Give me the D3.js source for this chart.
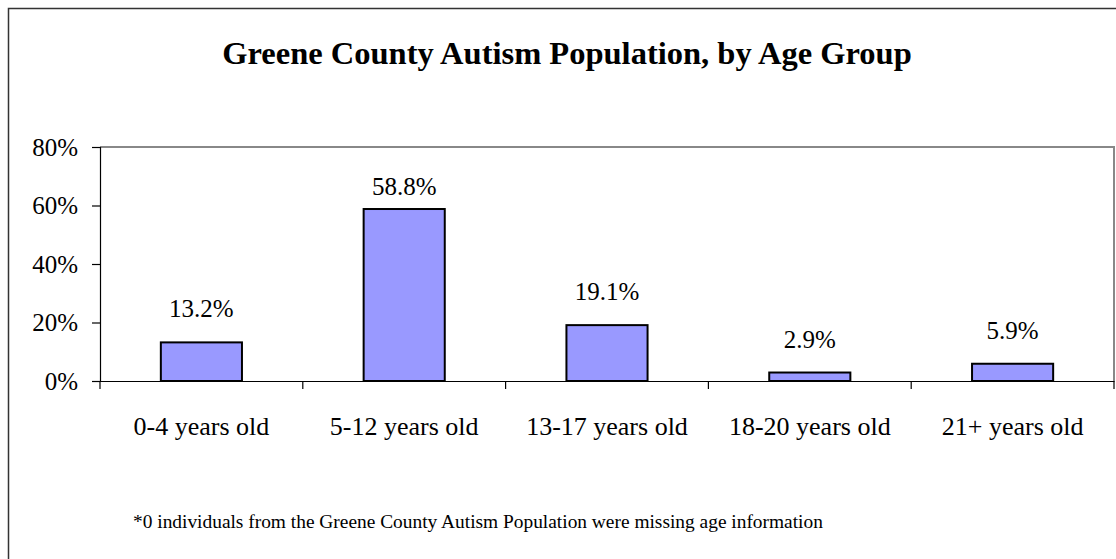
<!DOCTYPE html>
<html>
<head>
<meta charset="utf-8">
<script src="https://cdn.jsdelivr.net/npm/d3@7"></script>
<style>
  html, body { margin: 0; padding: 0; background: #fff; }
  svg { display: block; }
  text { font-family: "Liberation Serif", "Times New Roman", serif; fill: #000; }
</style>
</head>
<body>
<svg id="chart" width="1116" height="559"></svg>
<script>
const categories = ["0-4 years old", "5-12 years old", "13-17 years old", "18-20 years old", "21+ years old"];
const values = [0.132, 0.588, 0.191, 0.029, 0.059];
const yTicks = [0, 0.2, 0.4, 0.6, 0.8];
const titleText = "Greene County Autism Population, by Age Group";
const footnoteText = "*0 individuals from the Greene County Autism Population were missing age information";

const svg = d3.select("#chart");

// outer chart border (extends past the visible window on right/bottom)
svg.append("rect")
  .attr("x", 8.5).attr("y", 8.5)
  .attr("width", 1118).attr("height", 560)
  .attr("fill", "#fff")
  .attr("stroke", "#333").attr("stroke-width", 1.5);

const plot = { left: 100, right: 1114, top: 147, bottom: 381 };

const x = d3.scaleBand()
  .domain(categories)
  .range([plot.left, plot.right])
  .paddingInner(0.6)
  .paddingOuter(0.3);

const y = d3.scaleLinear()
  .domain([0, 0.8])
  .range([plot.bottom, plot.top]);

// plot area border (top & right gray)
svg.append("path")
  .attr("d", `M${plot.left},${plot.top}H${plot.right}V${plot.bottom}`)
  .attr("fill", "none")
  .attr("stroke", "#888").attr("stroke-width", 2);

// title
svg.append("text")
  .attr("x", 567).attr("y", 64)
  .attr("text-anchor", "middle")
  .attr("font-weight", "bold")
  .attr("font-size", 32.5)
  .text(titleText);

// bars
svg.append("g").selectAll("rect")
  .data(values)
  .join("rect")
  .attr("x", (d, i) => x(categories[i]))
  .attr("y", d => y(d))
  .attr("width", x.bandwidth())
  .attr("height", d => y(0) - y(d))
  .attr("fill", "#9999FF")
  .attr("stroke", "#000")
  .attr("stroke-width", 2);

// value labels
svg.append("g").selectAll("text")
  .data(values)
  .join("text")
  .attr("x", (d, i) => x(categories[i]) + x.bandwidth() / 2)
  .attr("y", d => y(d) - (d > 0.5 ? 14 : 25))
  .attr("text-anchor", "middle")
  .attr("font-size", 25)
  .text(d => d3.format(".1%")(d));

// y axis
const yAxis = d3.axisLeft(y)
  .tickValues(yTicks)
  .tickFormat(d3.format(".0%"))
  .tickSize(8)
  .tickPadding(14);
const gy = svg.append("g")
  .attr("transform", `translate(${plot.left},0)`)
  .call(yAxis);
gy.select(".domain").attr("stroke", "#000").attr("stroke-width", 1.2);
gy.selectAll(".tick line").attr("stroke", "#000").attr("stroke-width", 1.2);
gy.selectAll(".tick text")
  .attr("font-size", 25)
  .attr("fill", "#000");

// x axis (ticks at category boundaries)
const gx = svg.append("g")
  .attr("transform", `translate(0,${plot.bottom})`)
  .call(d3.axisBottom(x).tickSize(0).tickPadding(54));
gx.select(".domain").attr("stroke", "#000").attr("stroke-width", 1.2);
gx.selectAll(".tick text")
  .attr("font-size", 26)
  .attr("fill", "#000")
  .attr("dy", "0");
const step = x.step();
const boundaries = d3.range(categories.length + 1).map(i => plot.left + i * step);
gx.selectAll(".bound")
  .data(boundaries)
  .join("line")
  .attr("class", "bound")
  .attr("x1", d => d).attr("x2", d => d)
  .attr("y1", 0).attr("y2", 8)
  .attr("stroke", "#000").attr("stroke-width", 1.2);

// footnote
svg.append("text")
  .attr("x", 133).attr("y", 528)
  .attr("font-size", 19.4)
  .text(footnoteText);
</script>
</body>
</html>
